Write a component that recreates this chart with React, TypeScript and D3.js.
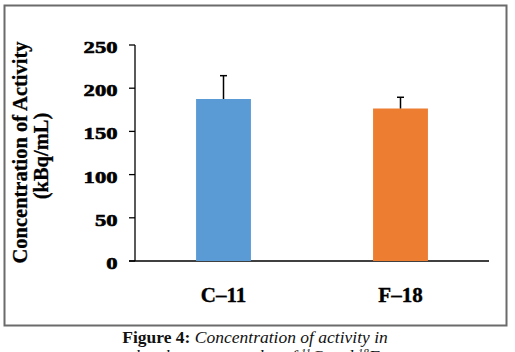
import React from "react";
import * as d3 from "d3";

const categories = ["C–11", "F–18"];
const values = [187.5, 176.5];
const errors = [27, 13];
const colors = ["#5B9BD5", "#ED7D31"];
const yTicks = [0, 50, 100, 150, 200, 250];
const yTitle = ["Concentration of Activity", "(kBq/mL)"];

const W = 515;
const H = 352;
const plot = { left: 135, right: 489, top: 45, bottom: 261 };

export default function App() {
  const x = d3
    .scaleBand<string>()
    .domain(categories)
    .range([plot.left, plot.right])
    .paddingInner(0.69)
    .paddingOuter(0.345);
  const y = d3.scaleLinear().domain([0, 250]).range([plot.bottom, plot.top]);
  const serif = "'Liberation Serif', 'Times New Roman', serif";

  return (
    <svg
      width={W}
      height={H}
      style={{ position: "absolute", left: 0, top: 0, background: "#fff" }}
    >
      <rect x={4.5} y={5.5} width={502} height={320} fill="#fff" stroke="#6b6b6b" strokeWidth={2} />

      {/* y axis */}
      <line x1={plot.left} x2={plot.left} y1={y(250)} y2={y(0)} stroke="#000" strokeWidth={1.3} />
      {yTicks.map((t) => {
        const label = String(t);
        return (
          <g key={t}>
            <line x1={plot.left - 6} x2={plot.left} y1={y(t)} y2={y(t)} stroke="#000" strokeWidth={1.3} />
            <text
              x={117.5}
              y={y(t) + 8}
              textAnchor="end"
              fontFamily={serif}
              fontWeight="bold"
              fontSize={17}
              stroke="#000"
              strokeWidth={0.6}
              textLength={label.length * 11.3}
              lengthAdjust="spacingAndGlyphs"
            >
              {label}
            </text>
          </g>
        );
      })}

      {/* x axis */}
      <line x1={plot.left - 6} x2={plot.right} y1={y(0)} y2={y(0)} stroke="#000" strokeWidth={1.3} />

      {categories.map((c, i) => {
        const bx = x(c)!;
        const cx = bx + x.bandwidth() / 2;
        return (
          <g key={c}>
            <rect x={bx} y={y(values[i])} width={x.bandwidth()} height={y(0) - y(values[i])} fill={colors[i]} />
            <line x1={cx} x2={cx} y1={y(values[i])} y2={y(values[i] + errors[i])} stroke="#000" strokeWidth={1.5} />
            <line x1={cx - 3.5} x2={cx + 3.5} y1={y(values[i] + errors[i])} y2={y(values[i] + errors[i])} stroke="#000" strokeWidth={1.5} />
            <text x={cx} y={302} textAnchor="middle" fontFamily={serif} fontWeight="bold" fontSize={21} stroke="#000" strokeWidth={0.4}>
              {c}
            </text>
          </g>
        );
      })}

      {/* y axis title */}
      <text transform="translate(27,152.5) rotate(-90)" textAnchor="middle" fontFamily={serif} fontWeight="bold" fontSize={20.5} stroke="#000" strokeWidth={0.3}>
        {yTitle[0]}
      </text>
      <text transform="translate(48,156) rotate(-90)" textAnchor="middle" fontFamily={serif} fontWeight="bold" fontSize={20.5} stroke="#000" strokeWidth={0.3}>
        {yTitle[1]}
      </text>

      {/* caption */}
      <text x={255} y={343} textAnchor="middle" fontFamily={serif} fontSize={17.5} fill="#111">
        <tspan fontWeight="bold">Figure 4: </tspan>
        <tspan fontStyle="italic">Concentration of activity in</tspan>
      </text>
      <text x={255} y={362} textAnchor="middle" fontFamily={serif} fontSize={17.5} fontStyle="italic" fill="#111">
        the phantom samples of <tspan baselineShift="super" fontSize={11}>11</tspan>C and <tspan baselineShift="super" fontSize={11}>18</tspan>F
      </text>
    </svg>
  );
}
